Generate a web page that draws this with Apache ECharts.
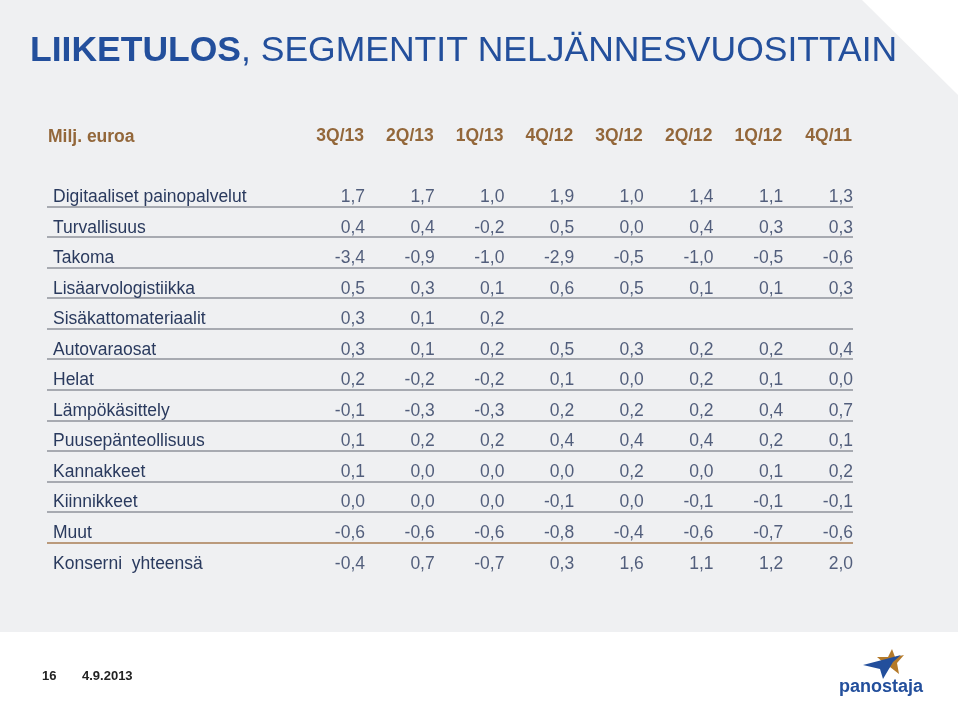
<!DOCTYPE html>
<html>
<head>
<meta charset="utf-8">
<script src="https://cdn.jsdelivr.net/npm/echarts@6/dist/echarts.min.js"></script>
<style>html,body{margin:0;padding:0;background:#fff;}#c{width:960px;height:704px;}</style>
</head>
<body>
<div id="c"></div>
<script>
var quarters = ['3Q/13','2Q/13','1Q/13','4Q/12','3Q/12','2Q/12','1Q/12','4Q/11'];
var segments = ['Digitaaliset painopalvelut','Turvallisuus','Takoma','Lisäarvologistiikka','Sisäkattomateriaalit','Autovaraosat','Helat','Lämpökäsittely','Puusepänteollisuus','Kannakkeet','Kiinnikkeet','Muut','Konserni  yhteensä'];
var digitaaliset = [1.7,1.7,1.0,1.9,1.0,1.4,1.1,1.3];
var turvallisuus = [0.4,0.4,-0.2,0.5,0.0,0.4,0.3,0.3];
var takoma = [-3.4,-0.9,-1.0,-2.9,-0.5,-1.0,-0.5,-0.6];
var lisaarvologistiikka = [0.5,0.3,0.1,0.6,0.5,0.1,0.1,0.3];
var sisakattomateriaalit = [0.3,0.1,0.2,null,null,null,null,null];
var autovaraosat = [0.3,0.1,0.2,0.5,0.3,0.2,0.2,0.4];
var helat = [0.2,-0.2,-0.2,0.1,0.0,0.2,0.1,0.0];
var lampokasittely = [-0.1,-0.3,-0.3,0.2,0.2,0.2,0.4,0.7];
var puusepanteollisuus = [0.1,0.2,0.2,0.4,0.4,0.4,0.2,0.1];
var kannakkeet = [0.1,0.0,0.0,0.0,0.2,0.0,0.1,0.2];
var kiinnikkeet = [0.0,0.0,0.0,-0.1,0.0,-0.1,-0.1,-0.1];
var muut = [-0.6,-0.6,-0.6,-0.8,-0.4,-0.6,-0.7,-0.6];
var konserni = [-0.4,0.7,-0.7,0.3,1.6,1.1,1.2,2.0];

var rows = [digitaaliset,turvallisuus,takoma,lisaarvologistiikka,sisakattomateriaalit,autovaraosat,helat,lampokasittely,puusepanteollisuus,kannakkeet,kiinnikkeet,muut,konserni];
var cells = [];
rows.forEach(function(r, ri){
  r.forEach(function(v, ci){
    if (v !== null) cells.push([ci, ri, v]);
  });
});

var NAVY = '#2a3a5e';
var BROWN = '#93673a';
var FONT = '"Liberation Sans", Arial, Helvetica, sans-serif';
var lineColors = ['rgba(0,0,0,0)'];
for (var i = 1; i < segments.length - 1; i++) lineColors.push('#8f939b');
lineColors.push('#a97e55');
lineColors.push('rgba(0,0,0,0)');

var chart = echarts.init(document.getElementById('c'), null, {renderer:'canvas'});
chart.setOption({
  backgroundColor: '#ffffff',
  animation: false,
  textStyle: {fontFamily: FONT},
  graphic: [
    {type:'polygon', z:-10, shape:{points:[[0,0],[862,0],[958,95],[958,632],[0,632]]}, style:{fill:'#eff0f2'}},
    {type:'polygon', z:5, shape:{points:[[892,649],[895,657],[904,655],[897,663],[899,674],[890,667],[882,672],[884,663],[877,657],[888,657]]}, style:{fill:'#b47a2a'}},
    {type:'polygon', z:6, shape:{points:[[863,665],[886,659],[901,655],[893,662],[883,679],[880,669]]}, style:{fill:'#234f9c'}},
    {type:'text', z:6, left:839, top:678, style:{text:'panostaja', fill:'#234f9c', font:'bold 18px "Liberation Sans", sans-serif'}}
  ],
  title: [
    {left:30, top:33, padding:0, text:'{b|LIIKETULOS}{r|, SEGMENTIT NELJÄNNESVUOSITTAIN}', textStyle:{rich:{
      b:{fontFamily:FONT, fontWeight:'bold', fontSize:35.5, color:'#234f9c'},
      r:{fontFamily:FONT, fontWeight:'normal', fontSize:35.5, color:'#234f9c'}}}},
    {left:48, top:128, padding:0, text:'Milj. euroa', textStyle:{fontFamily:FONT, fontWeight:'bold', fontSize:17.5, color:BROWN}},
    {left:42, top:670, padding:0, text:'16', textStyle:{fontFamily:FONT, fontWeight:'bold', fontSize:13, color:'#222'}},
    {left:82, top:670, padding:0, text:'4.9.2013', textStyle:{fontFamily:FONT, fontWeight:'bold', fontSize:13, color:'#222'}}
  ],
  grid: [
    {left:47, right:107, top:176, height:397},
    {left:364, right:108, top:182, height:397}
  ],
  xAxis: [
    {gridIndex:0, type:'value', show:false, min:0, max:1},
    {gridIndex:1, type:'category', data:quarters, boundaryGap:false, position:'top',
     axisLine:{show:false}, axisTick:{show:false}, splitLine:{show:false},
     axisLabel:{align:'right', margin:37, fontFamily:FONT, fontWeight:'bold', fontSize:17.5, color:BROWN}}
  ],
  yAxis: [
    {gridIndex:0, type:'category', data:segments, inverse:true,
     axisLine:{show:false}, axisTick:{show:false}, axisLabel:{show:false},
     splitLine:{show:true, lineStyle:{color:lineColors, width:1.5}}},
    {gridIndex:1, type:'category', data:segments, inverse:true,
     axisLine:{show:false}, axisTick:{show:false}, splitLine:{show:false},
     axisLabel:{align:'left', margin:311, fontFamily:FONT, fontSize:17.5, color:NAVY}}
  ],
  series: [{
    type:'scatter', xAxisIndex:1, yAxisIndex:1, data:cells,
    symbolSize:1, itemStyle:{color:'rgba(0,0,0,0)'},
    label:{show:true, position:'inside', align:'right', verticalAlign:'middle', offset:[1,0],
      fontFamily:FONT, fontSize:17.5, color:NAVY,
      formatter:function(p){ return p.value[2].toFixed(1).replace('.', ','); }}
  }]
});
</script>
</body>
</html>
